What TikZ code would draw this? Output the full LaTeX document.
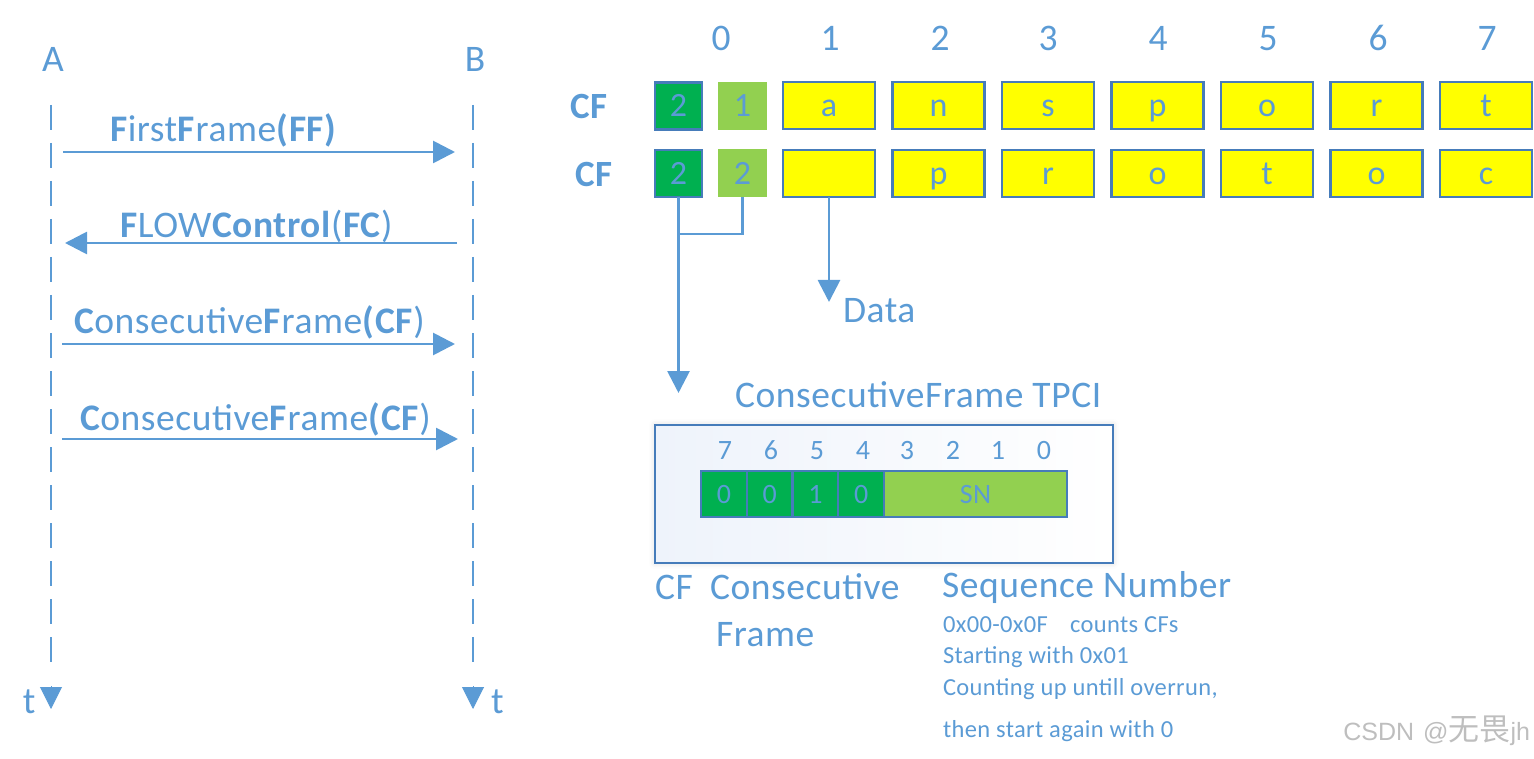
\documentclass[tikz,border=0pt]{standalone}
\usepackage{fontspec}
\setmainfont{Carlito}[LetterSpace=1.5]
\newfontfamily\cjkfont{Noto Sans CJK SC}
\newfontfamily\sigfont{Liberation Sans}
\usetikzlibrary{arrows.meta,shadows.blur}

\definecolor{ink}{RGB}{91,155,213}
\definecolor{edge}{RGB}{70,124,186}
\definecolor{dgreen}{RGB}{0,176,80}
\definecolor{lgreen}{RGB}{146,208,80}
\definecolor{ylw}{RGB}{255,255,0}
\definecolor{paleblue}{RGB}{238,243,251}
\definecolor{wmgray}{RGB}{190,190,190}

\newcommand\fsz[1]{\fontsize{#1}{#1}\selectfont}

\begin{document}
\begin{tikzpicture}[x=1pt,y=-1pt,
  every node/.style={inner sep=0pt,outer sep=0pt,text=ink},
  big/.style={font=\fsz{37.5}},
  mid/.style={font=\fsz{28}},
  small/.style={font=\fsz{24.5}},
  lifeline/.style={draw=ink,line width=2.8pt,dash pattern=on 25pt off 13pt},
  tiphead/.style={-{Triangle[length=22pt,width=22pt]}},
  msg/.style={draw=ink,line width=2.8pt,tiphead},
  link/.style={draw=ink,line width=2.8pt},
  cellbox/.style={draw=edge,line width=2.4pt,minimum height=47pt,
    text height=22pt,text depth=0pt,font=\fsz{34}},
  sqdark/.style={cellbox,fill=dgreen,minimum width=47pt},
  sqlight/.style={cellbox,draw=none,fill=lgreen,minimum width=49pt,minimum height=48pt},
  datacell/.style={cellbox,fill=ylw,minimum width=92pt},
  bitcell/.style={draw=edge,line width=2.2pt,fill=dgreen,minimum width=45.75pt,
    minimum height=46pt,text height=18pt,text depth=0pt,font=\fsz{28}},
  sncell/.style={bitcell,fill=lgreen,minimum width=183pt},
  tpcibox/.style={draw=edge,line width=2.2pt,shading=axis,shading angle=135,
    left color=paleblue,right color=white,
    minimum width=458pt,minimum height=138pt,
    blur shadow={shadow xshift=0pt,shadow yshift=0pt,shadow blur radius=6pt,shadow opacity=15}},
]
\useasboundingbox (0,0) rectangle (1534,759);

% ---------- sequence chart: two lifelines ----------
\node[big,anchor=base] (A) at (53,72) {A};
\node[big,anchor=base] (B) at (475,72) {B};
\coordinate (Atop) at (51,105);
\coordinate (Aend) at (51,672);
\coordinate (Btop) at (473,105);
\coordinate (Bend) at (473,672);
\draw[lifeline] (Atop) -- (Aend);
\draw[lifeline] (Btop) -- (Bend);
\coordinate (Aarr) at (51,686);
\coordinate (Atip) at (51,709);
\coordinate (Barr) at (473,686);
\coordinate (Btip) at (473,709);
\draw[draw=ink,line width=1pt,tiphead,fill=ink] (Aarr) -- (Atip);
\draw[draw=ink,line width=1pt,tiphead,fill=ink] (Barr) -- (Btip);
\node[big,anchor=base west] (tA) at (23,713) {t};
\node[big,anchor=base west] (tB) at (491,713) {t};

% messages between A and B
\coordinate (a1) at (63,152);  \coordinate (b1) at (455,152);
\coordinate (a2) at (65,243);  \coordinate (b2) at (457,243);
\coordinate (a3) at (62,344);  \coordinate (b3) at (455,344);
\coordinate (a4) at (62,439);  \coordinate (b4) at (458,439);
\draw[msg] (a1) -- (b1);
\draw[msg] (b2) -- (a2);
\draw[msg] (a3) -- (b3);
\draw[msg] (a4) -- (b4);
\node[big,anchor=base west] (ff) at (110,142)
  {\textbf{F}irst\textbf{F}rame\textbf{(FF)}};
\node[big,anchor=base west] (fc) at (120,238)
  {\textbf{F}LOW\textbf{Control}(\textbf{FC})};
\node[big,anchor=base west] (cf1) at (74,334)
  {\textbf{C}onsecutive\textbf{F}rame\textbf{(CF})};
\node[big,anchor=base west] (cf2) at (80,430)
  {\textbf{C}onsecutive\textbf{F}rame\textbf{(CF})};

% ---------- frame layout: byte positions ----------
\foreach \i/\x in {0/721,1/830,2/940,3/1048,4/1158,5/1268,6/1378,7/1487}
  \node[big,anchor=base] (hd\i) at (\x,51) {\i};

\node[big,anchor=base west,font=\fsz{37}\bfseries] (rowA) at (570,119) {CF};
\node[big,anchor=base west,font=\fsz{37}\bfseries] (rowB) at (575,187) {CF};

% first consecutive frame
\node[sqdark]  (pA) at (678.5,106) {2};
\node[sqlight] (sA) at (742.5,106) {1};
\foreach \i/\c in {1/a,2/n,3/s,4/p,5/o,6/r,7/t}
  \node[datacell] (dA\i) at ({829+109.5*(\i-1)},105.5) {\c};

% second consecutive frame
\node[sqdark]  (pB) at (678.5,173.5) {2};
\node[sqlight] (sB) at (742.5,173.5) {2};
\foreach \i/\c in {1/{},2/p,3/r,4/o,5/t,6/o,7/c}
  \node[datacell] (dB\i) at ({829+109.5*(\i-1)},173.5) {\c};

% pointers below the second frame
\coordinate (join) at (pB.south |- 0,234);
\draw[link] (sB.south) |- (join);
\node[big,anchor=base west] (data) at (843,323) {Data};
\coordinate (dataTip) at (dB1.south |- 0,302);
\draw[msg] (dB1.south) -- (dataTip);
\coordinate (tpciTip) at (pB.south |- 0,393);
\draw[msg] (pB.south) -- (tpciTip);

% ---------- TPCI byte ----------
\node[big,anchor=base west] (tpciTitle) at (735,407) {ConsecutiveFrame TPCI};
\node[tpcibox] (tpci) at (884,494) {};
\foreach \b/\x in {7/725,6/771,5/817,4/863,3/907,2/953,1/998,0/1044}
  \node[mid,anchor=base] (bit\b) at (\x,459) {\b};
\foreach \k/\v in {0/0,1/0,2/1,3/0}
  \node[bitcell] (nib\k) at ({701+45.75*\k+22.875},494) {\v};
\node[sncell] (sn) at (975.5,494) {SN};

% ---------- legend ----------
\node[big,anchor=base west] (cfAbbr) at (655,599) {CF};
\node[big,anchor=base west] (cfWord) at (710,599) {Consecutive};
\node[big,anchor=base west] (cfWord2) at (716,646) {Frame};
\node[big,anchor=base west] (snTitle) at (942,597) {Sequence Number};
\node[small,anchor=base west] (snL1) at (943,632) {0x00-0x0F\hspace{0.9em}counts CFs};
\node[small,anchor=base west] (snL2) at (943,663) {Starting with 0x01};
\node[small,anchor=base west] (snL3) at (943,695) {Counting up untill overrun,};
\node[small,anchor=base west] (snL4) at (943,737) {then start again with 0};

% signature
\node[anchor=base east,text=wmgray] (sig) at (1530,740)
  {\sigfont\fsz{25}CSDN\hspace{9pt}@\cjkfont\fsz{31}无畏\sigfont\fsz{25}jh};
\end{tikzpicture}
\end{document}
